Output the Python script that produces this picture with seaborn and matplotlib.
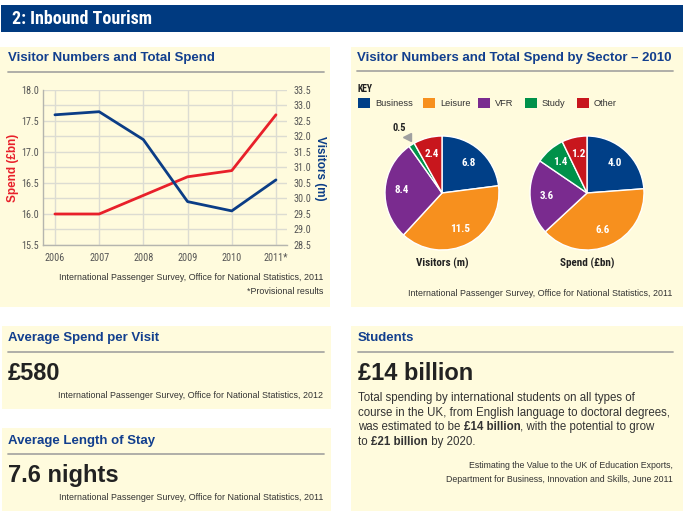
import matplotlib
matplotlib.use('Agg')
import matplotlib.pyplot as plt
from matplotlib.patches import Rectangle
from matplotlib.lines import Line2D
import seaborn as sns
import pandas as pd
import numpy as np

# ---------------- data ----------------
years = ['2006', '2007', '2008', '2009', '2010', '2011*']
spend_bn = [16.0, 16.0, 16.3, 16.6, 16.7, 17.6]
visitors_m = [32.7, 32.8, 31.9, 29.9, 29.6, 30.6]

sectors = ['Business', 'Leisure', 'VFR', 'Study', 'Other']
sector_colors = ['#003f87', '#f7901e', '#7a2b8f', '#00914a', '#c8161d']
visitors_2010 = [6.8, 11.5, 8.4, 0.5, 2.4]
spend_2010 = [4.0, 6.6, 3.6, 1.4, 1.2]

avg_spend = '£580'
avg_stay = '7.6 nights'
students_value = '£14 billion'

# ---------------- style ----------------
sns.set_theme(style='white')
REG = ['Liberation Sans', 'DejaVu Sans']
NARROW = ['Roboto Condensed', 'Liberation Sans Narrow', 'Liberation Sans', 'DejaVu Sans']
plt.rcParams['font.family'] = REG

W, H = 683, 511
CREAM = '#fffbdd'
HEAD_BLUE = '#003a80'
TITLE_BLUE = '#123f8e'
RED = '#e8202a'
BLUE = '#0b3d86'
GRID = '#dcdcd2'
RULE = '#a9a9a4'
TXT = '#222222'
SRC = '#333333'

fig = plt.figure(figsize=(W / 100, H / 100), dpi=100)
fig.patch.set_facecolor('white')


def rect(x0, y0, x1, y1, color, z=-5):
    fig.patches.append(Rectangle((x0 / W, 1 - y1 / H), (x1 - x0) / W, (y1 - y0) / H,
                                 transform=fig.transFigure, facecolor=color,
                                 edgecolor='none', zorder=z))


def ftext(x, y, s, **kw):
    return fig.text(x / W, 1 - y / H, s, **kw)


def rule(x0, x1, y):
    fig.add_artist(Line2D([x0 / W, x1 / W], [1 - y / H, 1 - y / H], color=RULE, lw=1.3,
                          zorder=-1))


# header
rect(1, 5, 683, 32, HEAD_BLUE)
ftext(12, 19, '2: Inbound Tourism', color='white', fontsize=13, fontweight='bold',
      family=NARROW, fontstretch='condensed', va='center', ha='left')

# panels
rect(0, 47, 330, 307, CREAM)
rect(351, 47, 683, 307, CREAM)
rect(2, 326, 331, 409, CREAM)
rect(2, 428, 331, 511, CREAM)
rect(351, 326, 683, 511, CREAM)

# ---------------- panel 1 : line chart ----------------
ftext(8, 58, 'Visitor Numbers and Total Spend', color=TITLE_BLUE, fontsize=9.5,
      fontweight='bold', va='center')
rule(8, 324, 72)

ax = fig.add_axes([43 / W, 1 - 245 / H, (287 - 43) / W, (245 - 90) / H])
ax.set_facecolor('none')
df = pd.DataFrame({'year': years, 'spend': spend_bn, 'visitors': visitors_m})
sns.lineplot(data=df, x='year', y='spend', ax=ax, color=RED, lw=2.0, sort=False)
ax.set_xlim(-0.27, 5.25)
ax.set_ylim(15.5, 18.0)
ax.set_yticks(np.arange(15.5, 18.01, 0.5),
              labels=[f'{v:.1f}' for v in np.arange(15.5, 18.01, 0.5)],
              fontsize=7.3, color='#555555', family=NARROW)
ax.set_yticks(np.arange(15.75, 18.0, 0.5), minor=True)
ax.set_xticks(range(len(years)), labels=years, fontsize=7.3, color='#555555', family=NARROW)
ax.grid(True, which='both', color=GRID, lw=1.0)
ax.tick_params(axis='both', which='both', length=0)
ax.tick_params(axis='y', pad=3)
ax.tick_params(axis='x', pad=6)
ax.set_xlabel('')
ax.set_ylabel('')
for s in ['top', 'right']:
    ax.spines[s].set_visible(False)
for s in ['left', 'bottom']:
    ax.spines[s].set_color('#b5b5ae')
    ax.spines[s].set_linewidth(1.0)

ax2 = ax.twinx()
sns.lineplot(data=df, x='year', y='visitors', ax=ax2, color=BLUE, lw=2.0, sort=False)
ax2.set_ylim(28.5, 33.5)
ax2.set_yticks(np.arange(28.5, 33.51, 0.5),
               labels=[f'{v:.1f}' for v in np.arange(28.5, 33.51, 0.5)],
               fontsize=7.3, color='#555555', family=NARROW)
ax2.tick_params(axis='y', length=0, pad=5)
ax2.set_ylabel('')
for s in ax2.spines.values():
    s.set_visible(False)

ftext(13, 168, 'Spend (£bn)', color=RED, fontsize=8.5, fontweight='bold',
      rotation=90, va='center', ha='center')
ftext(320, 168, 'Visitors (m)', color=BLUE, fontsize=8.5, fontweight='bold',
      rotation=270, va='center', ha='center')

ftext(323, 277, 'International Passenger Survey, Office for National Statistics, 2011',
      fontsize=6.4, color=SRC, ha='right', va='center')
ftext(323, 291, '*Provisional results', fontsize=6.4, color=SRC, ha='right', va='center')

# ---------------- panel 2 : pies ----------------
ftext(357, 58, 'Visitor Numbers and Total Spend by Sector – 2010', color=TITLE_BLUE,
      fontsize=9.5, fontweight='bold', va='center')
rule(357, 673, 71)

ftext(357, 89, 'KEY', fontsize=7, fontweight='bold', color=TXT, va='center', family=NARROW)
key_x = [358, 423, 478, 525, 577]
for kx, name, col in zip(key_x, sectors, sector_colors):
    rect(kx, 98, kx + 12, 108, col, z=1)
    ftext(kx + 17, 104, name, fontsize=6.7, color=SRC, va='center')


def draw_pie(cx, cy, r, values, caption, outside_small=False):
    size = 2.6 * r
    a = fig.add_axes([(cx - size / 2) / W, 1 - (cy + size / 2) / H, size / W, size / H])
    total = sum(values)

    def fmt(p):
        v = p * total / 100
        return '' if (outside_small and v < 1) else f'{v:.1f}'

    wedges, _, autotexts = a.pie(values, colors=sector_colors, startangle=90,
                                 counterclock=False, autopct=fmt, pctdistance=0.71,
                                 wedgeprops=dict(edgecolor='white', linewidth=1.0),
                                 textprops=dict(color='white', fontsize=8,
                                                fontweight='bold', family=NARROW))
    a.set_xlim(-1.3, 1.3)
    a.set_ylim(-1.3, 1.3)
    a.set_aspect('equal')
    a.axis('off')
    if outside_small:
        for w, v in zip(wedges, values):
            if v < 1:
                th = np.deg2rad((w.theta1 + w.theta2) / 2)
                a.plot([1.16 * np.cos(th)], [1.16 * np.sin(th)], marker='<',
                       color='#a0a0a0', markersize=5.5, clip_on=False)
                a.text(1.16 * np.cos(th) - 0.14, 1.16 * np.sin(th) + 0.16, f'{v:.1f}',
                       fontsize=7.5, fontweight='bold', family=NARROW, color=TXT,
                       ha='center', va='center')
    ftext(cx, 263, caption, fontsize=8, fontweight='bold', family=NARROW,
          color=TXT, ha='center', va='center')


draw_pie(442, 193, 57, visitors_2010, 'Visitors (m)', outside_small=True)
draw_pie(587, 193, 57, spend_2010, 'Spend (£bn)')

ftext(672, 293, 'International Passenger Survey, Office for National Statistics, 2011',
      fontsize=6.4, color=SRC, ha='right', va='center')

# ---------------- panel 3 ----------------
ftext(8, 338, 'Average Spend per Visit', color=TITLE_BLUE, fontsize=9.5,
      fontweight='bold', va='center')
rule(8, 324, 352)
ftext(8, 380, avg_spend, fontsize=17, fontweight='bold', color=TXT, va='baseline')
ftext(323, 395, 'International Passenger Survey, Office for National Statistics, 2012',
      fontsize=6.4, color=SRC, ha='right', va='center')

# ---------------- panel 4 ----------------
ftext(8, 441, 'Average Length of Stay', color=TITLE_BLUE, fontsize=9.5,
      fontweight='bold', va='center')
rule(8, 324, 454)
ftext(8, 482, avg_stay, fontsize=17, fontweight='bold', color=TXT, va='baseline')
ftext(323, 497, 'International Passenger Survey, Office for National Statistics, 2011',
      fontsize=6.4, color=SRC, ha='right', va='center')

# ---------------- panel 5 ----------------
ftext(358, 338, 'Students', color=TITLE_BLUE, fontsize=9.5, fontweight='bold', va='center')
rule(358, 673, 352)
ftext(358, 380, students_value, fontsize=17, fontweight='bold', color=TXT, va='baseline')

para = [
    [('Total spending by international students on all types of', 'normal')],
    [('course in the UK, from English language to doctoral degrees,', 'normal')],
    [('was estimated to be ', 'normal'), ('£14 billion', 'bold'),
     (', with the potential to grow', 'normal')],
    [('to ', 'normal'), ('£21 billion', 'bold'), (' by 2020.', 'normal')],
]
renderer = fig.canvas.get_renderer()
for i, line in enumerate(para):
    x = 358
    y = 398 + i * 14.7
    for seg, wt in line:
        t = ftext(x, y, seg, fontsize=8.3, fontweight=wt, color=SRC, va='center', ha='left')
        bb = t.get_window_extent(renderer=renderer)
        x += bb.width

ftext(673, 465, 'Estimating the Value to the UK of Education Exports,',
      fontsize=6.3, color=SRC, ha='right', va='center')
ftext(673, 479, 'Department for Business, Innovation and Skills, June 2011',
      fontsize=6.3, color=SRC, ha='right', va='center')

fig.savefig('out.png', dpi=100, facecolor='white')
